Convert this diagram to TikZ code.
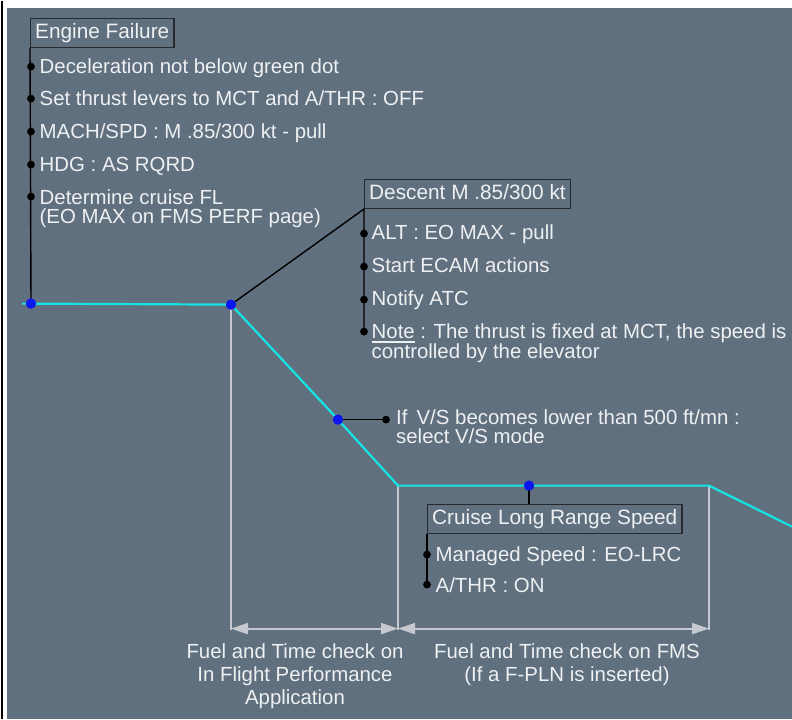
\documentclass[tikz,border=0pt]{standalone}
\usepackage{fontspec}
\setmainfont{Liberation Sans}
\usetikzlibrary{arrows.meta,positioning}

\definecolor{panelgray}{RGB}{96,112,127}
\definecolor{labelwhite}{RGB}{238,240,242}
\definecolor{boxline}{RGB}{38,42,46}
\definecolor{flightcyan}{RGB}{22,228,228}
\definecolor{pointblue}{RGB}{12,22,238}
\definecolor{dimgray}{RGB}{198,202,208}

\newcommand{\noteword}[1]{\setbox0\hbox{#1}\rlap{\rule[-4.6pt]{\wd0}{1.8pt}}\box0\relax}

\begin{document}
\begin{tikzpicture}[x=1pt,y=-1pt,
	every node/.style={text=labelwhite,inner sep=0pt},
	steptext/.style={font=\fontsize{20.4}{19}\selectfont,anchor=base west,align=left},
	headbox/.style={draw=boxline,line width=1.4pt,font=\fontsize{20.8}{19}\selectfont,
		text height=16pt,text depth=4pt,inner xsep=4.5pt,inner ysep=4.5pt,anchor=north west},
	checklabel/.style={font=\fontsize{20.4}{23}\selectfont,align=center,anchor=north},
	flightpath/.style={flightcyan,line width=2.2pt},
	leader/.style={black,line width=1.4pt},
	dimline/.style={dimgray,line width=2pt},
	spanarrow/.style={dimline,{Triangle[length=17pt,width=11pt]}-{Triangle[length=17pt,width=11pt]}}]
		
		% Page and panel
		\fill[white] (0,0) rectangle (792,718);
		\draw[black,line width=1.2pt] (2,0) -- (2,718);
		\fill[panelgray] (7,7) rectangle (792,718);
		\useasboundingbox (0,0) rectangle (792,718);
		
		% Points on the flight path
		\coordinate (start) at (22,303);
		\coordinate (ef) at (31,303);
		\coordinate (tod) at (231,304);
		\coordinate (vs) at (338,419);
		\coordinate (boc) at (398,485);
		\coordinate (crz) at (529,485);
		\coordinate (eoc) at (709,485);
		\coordinate (out) at (792,526);
		
		% Phase boxes
		\node[headbox] (engfail) at (30,17) {Engine Failure};
		\node[headbox] (descent) at (364,178) {Descent M .85/300 kt};
		\node[headbox] (cruise) at (427,503) {Cruise Long Range Speed};
		
		% Check spans below the profile
		\coordinate (s1) at (231,628);
		\coordinate (s2) at (398,628);
		\coordinate (s3) at (709,628);
		\draw[dimline] (tod) -- ([yshift=-1.5pt]s1);
		\draw[dimline] (boc) -- ([yshift=-1.5pt]s2);
		\draw[dimline] (eoc) -- ([yshift=-1.5pt]s3);
		\draw[spanarrow] (s1) -- (s2);
		\draw[spanarrow] (s2) -- (s3);
		
		% Leader lines
		\coordinate (dlast) at (364,331);
		\coordinate (vsmark) at (386,419);
		\coordinate (clast) at (427,584);
		\draw[leader] (engfail.south west) -- (ef);
		\draw[leader] (tod) -- (descent.south west) -- (dlast);
		\draw[leader] (vs) -- (vsmark);
		\draw[leader] (crz) -- (crz |- cruise.north);
		\draw[leader] (cruise.south west) -- (clast);
		
		% Flight profile
		\draw[flightpath] (start) -- (tod) -- (vs) -- (boc) -- (crz) -- (eoc) -- (out);
		\foreach \p in {ef,tod,vs,crz}
			\fill[pointblue] (\p) circle (5.2pt);
		
		% Bullets
		\foreach \y in {66,98,131,164,196}
			\fill (31,\y) circle (3.9pt);
		\foreach \y in {233,266,299,331}
			\fill (364,\y) circle (3.9pt);
		\foreach \y in {554,584}
			\fill (427,\y) circle (3.9pt);
		\fill (vsmark) circle (3.9pt);
		
		% Engine failure items
		\node[steptext] (ef1) at (39.5,73) {Deceleration not below green dot};
		\node[steptext] (ef2) at (39.5,105) {Set thrust levers to MCT and A/THR : OFF};
		\node[steptext] (ef3) at (39.5,138) {MACH/SPD : M .85/300 kt - pull};
		\node[steptext] (ef4) at (39.5,171) {HDG : AS RQRD};
		\node[steptext,anchor=north west] (ef5) at (39.5,188.6) {Determine cruise FL\\(EO MAX on FMS PERF page)};
		
		% Descent items
		\node[steptext] (d1) at (371.5,239) {ALT : EO MAX - pull};
		\node[steptext] (d2) at (371.5,272) {Start ECAM actions};
		\node[steptext] (d3) at (371.5,305) {Notify ATC};
		\node[steptext,anchor=north west] (d4) at (371.5,323) {\noteword{Note} : The thrust is fixed at MCT, the speed is\\controlled by the elevator};
		
		% V/S note
		\node[steptext,anchor=north west] (vsnote) at (396,409.4) {If\, V/S becomes lower than 500 ft/mn :\\select V/S mode};
		
		% Cruise items
		\node[steptext] (c1) at (435.5,561) {Managed Speed : EO-LRC};
		\node[steptext] (c2) at (435.5,592) {A/THR : ON};
		
		% Check labels
		\node[checklabel] (chk1) at (295,642.5) {Fuel and Time check on\\In Flight Performance\\Application};
		\node[checklabel] (chk2) at (567,642.5) {Fuel and Time check on FMS\\(If a F-PLN is inserted)};
		
	\end{tikzpicture}
\end{document}
